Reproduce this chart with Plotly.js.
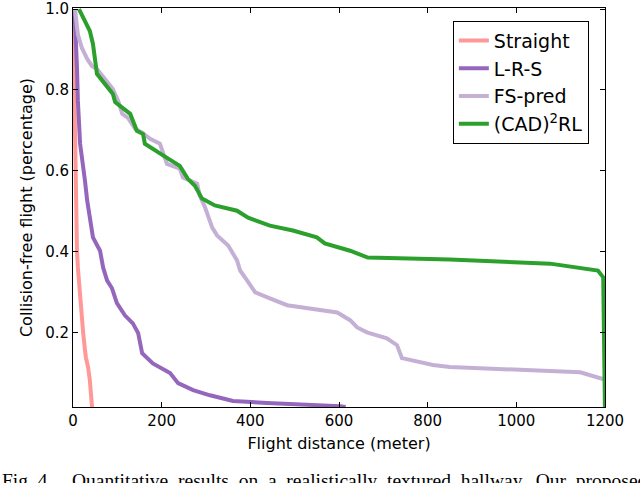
<!DOCTYPE html>
<html>
<head>
<meta charset="utf-8">
<script src="https://cdn.plot.ly/plotly-3.0.1.min.js"></script>
<style>html,body{margin:0;padding:0;background:#fff;}#chart{width:640px;height:483px;}</style>
</head>
<body>
<div id="chart"></div>
<script>
// Straight
const straightX = [0, 2, 7, 9, 11, 16, 20, 23, 27, 29, 34, 36, 38, 43, 44];
const straightY = [1.0, 0.847, 0.526, 0.402, 0.360, 0.279, 0.247, 0.198, 0.156, 0.138, 0.114, 0.099, 0.081, 0.015, 0.0];
// L-R-S
const lrsX = [0, 4.5, 9, 11, 16, 20, 27, 32, 38, 45, 61, 68, 77, 88, 99, 117, 135, 147, 156, 180, 219, 237, 271, 309, 361, 438, 602, 615];
const lrsY = [1.0, 0.970, 0.854, 0.773, 0.667, 0.625, 0.575, 0.526, 0.477, 0.435, 0.402, 0.360, 0.328, 0.309, 0.272, 0.242, 0.222, 0.198, 0.148, 0.123, 0.099, 0.074, 0.057, 0.044, 0.030, 0.025, 0.017, 0.015];
// FS-pred
const fsX = [4.5, 11, 20, 32, 43, 54, 72, 90, 102, 111, 124, 140, 156, 174, 196, 203, 212, 241, 248, 280, 286, 298, 314, 325, 350, 370, 377, 393, 411, 444, 483, 596, 625, 641, 663, 708, 731, 742, 812, 850, 1144, 1196, 1200];
const fsY = [1.0, 0.938, 0.904, 0.877, 0.859, 0.852, 0.827, 0.802, 0.773, 0.741, 0.731, 0.704, 0.694, 0.679, 0.667, 0.642, 0.617, 0.605, 0.583, 0.568, 0.538, 0.509, 0.459, 0.440, 0.415, 0.378, 0.353, 0.328, 0.299, 0.284, 0.267, 0.249, 0.230, 0.212, 0.200, 0.185, 0.168, 0.136, 0.119, 0.114, 0.101, 0.084, 0.081];
// (CAD)2RL
const cadX = [13.5, 27, 38, 45, 50, 54, 90, 95, 129, 144, 158, 162, 212, 241, 259, 275, 291, 320, 370, 395, 444, 496, 550, 568, 625, 665, 850, 1076, 1184, 1196, 1200, 1200];
const cadY = [1.0, 0.970, 0.946, 0.914, 0.864, 0.840, 0.790, 0.770, 0.741, 0.699, 0.691, 0.667, 0.632, 0.612, 0.580, 0.563, 0.531, 0.514, 0.501, 0.484, 0.464, 0.452, 0.435, 0.420, 0.402, 0.385, 0.380, 0.370, 0.353, 0.336, 0.0, 0.0];

const seriesNames = ['Straight', 'L-R-S', 'FS-pred', '(CAD)<sup>2</sup>RL'];
const xTicks = [0, 200, 400, 600, 800, 1000, 1200];
const yTicks = [0.2, 0.4, 0.6, 0.8, 1.0];

const mk = (x, y, name, color) => ({
  x: x, y: y, name: name, type: 'scatter', mode: 'lines',
  line: {color: color, width: 4}
});

const data = [
  mk(straightX, straightY, seriesNames[0], '#ff9896'),
  mk(lrsX, lrsY, seriesNames[1], '#9467bd'),
  mk(fsX, fsY, seriesNames[2], '#c5b0d5'),
  mk(cadX, cadY, seriesNames[3], '#2ca02c')
];

const axisCommon = {
  showgrid: false, zeroline: false, showline: true, linecolor: '#000', linewidth: 1,
  mirror: 'allticks', ticks: 'inside', ticklen: 5, tickcolor: '#000', tickwidth: 1,
  tickmode: 'array', ticklabeloverflow: 'allow',
  tickfont: {family: 'DejaVu Sans', size: 15, color: '#000'}
};

const layout = {
  width: 640, height: 483,
  margin: {l: 73, r: 35, t: 8, b: 76},
  paper_bgcolor: '#fff', plot_bgcolor: '#fff',
  font: {family: 'DejaVu Sans', color: '#000'},
  xaxis: Object.assign({}, axisCommon, {
    range: [0, 1200], tickvals: xTicks, ticktext: xTicks.map(String),
    title: {text: 'Flight distance (meter)', font: {family: 'DejaVu Sans', size: 16, color: '#000'}, standoff: 8}
  }),
  yaxis: Object.assign({}, axisCommon, {
    range: [0.015, 1.003], tickvals: yTicks, ticktext: yTicks.map(v => v.toFixed(1)),
    title: {text: 'Collision-free flight (percentage)', font: {family: 'DejaVu Sans', size: 16, color: '#000'}, standoff: 8}
  }),
  legend: {
    x: 0.714, y: 0.968, xanchor: 'left', yanchor: 'top',
    bordercolor: '#000', borderwidth: 1, bgcolor: '#fff',
    font: {family: 'DejaVu Sans', size: 19, color: '#000'}
  },
  showlegend: true,
  annotations: [{
    text: 'Fig. 4.    Quantitative  results  on  a  realistically  textured  hallway.  Our  proposed',
    xref: 'paper', yref: 'paper', x: -0.137, y: -0.152, xanchor: 'left', yanchor: 'top',
    showarrow: false, font: {family: 'Liberation Serif', size: 19.5, color: '#000'}
  }]
};

Plotly.newPlot('chart', data, layout, {displayModeBar: false, staticPlot: true});
</script>
</body>
</html>
